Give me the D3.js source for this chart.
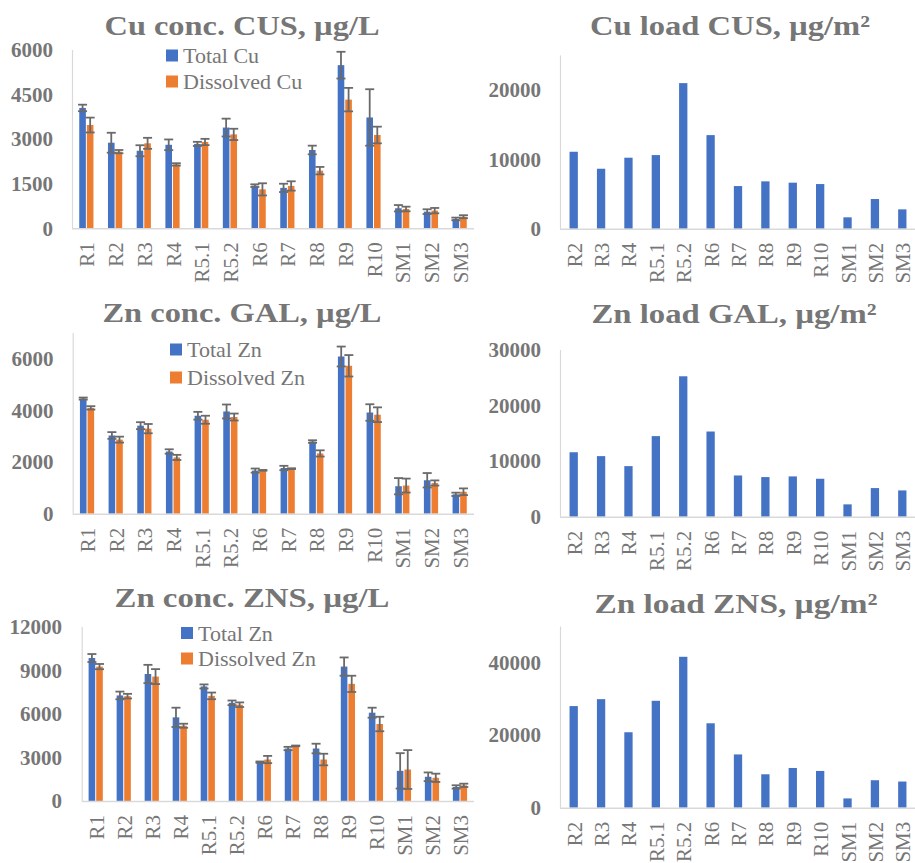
<!DOCTYPE html>
<html><head><meta charset="utf-8">
<script src="https://cdn.jsdelivr.net/npm/d3@7"></script>
<style>
html,body{margin:0;padding:0;background:#fff;}
svg{display:block;}
</style></head>
<body>
<svg id="chart" width="915" height="863"></svg>
<script>
// ---------- DATA ----------
const catsConc = ["R1","R2","R3","R4","R5.1","R5.2","R6","R7","R8","R9","R10","SM1","SM2","SM3"];
const catsLoad = ["R2","R3","R4","R5.1","R5.2","R6","R7","R8","R9","R10","SM1","SM2","SM3"];

const cuTotal     = [4050, 2880, 2610, 2810, 2840, 3390, 1435, 1360, 2635, 5490, 3730, 675, 560, 315];
const cuTotalErr  = [110, 335, 185, 180, 70, 300, 45, 140, 146, 450, 950, 107, 80, 45];
const cuDiss      = [3475, 2580, 2860, 2150, 2905, 3160, 1310, 1425, 1940, 4330, 3140, 650, 595, 390];
const cuDissErr   = [250, 55, 185, 40, 105, 190, 205, 157, 125, 395, 280, 78, 90, 50];
const cuLoad      = [11100, 8650, 10240, 10620, 21000, 13500, 6150, 6830, 6640, 6440, 1640, 4280, 2790];

const znGalTotal    = [4460, 3030, 3410, 2410, 3795, 3960, 1670, 1770, 2795, 6090, 3920, 1065, 1295, 750];
const znGalTotalErr = [40, 130, 135, 85, 150, 270, 80, 85, 50, 385, 320, 315, 280, 65];
const znGalDiss     = [4100, 2870, 3295, 2180, 3640, 3745, 1680, 1745, 2335, 5730, 3835, 1090, 1190, 850];
const znGalDissErr  = [65, 115, 180, 100, 155, 135, 15, 15, 120, 415, 285, 270, 100, 130];
const znGalLoad     = [11600, 10900, 9100, 14500, 25270, 15330, 7420, 7130, 7250, 6830, 2220, 5150, 4730];

const znZnsTotal    = [9860, 7280, 8760, 5770, 7900, 6770, 2680, 3620, 3620, 9270, 6090, 2080, 1670, 970];
const znZnsTotalErr = [275, 265, 630, 665, 140, 160, 45, 115, 330, 630, 345, 1220, 300, 115];
const znZnsDiss     = [9270, 7230, 8580, 5190, 7250, 6640, 2860, 3800, 2860, 8080, 5310, 2170, 1600, 1080];
const znZnsDissErr  = [180, 160, 515, 140, 230, 160, 250, 25, 400, 560, 500, 1340, 285, 115];
const znZnsLoad     = [28040, 29950, 20820, 29500, 41640, 23290, 14700, 9220, 10960, 10140, 2560, 7580, 7220];

const ticksCu   = [0, 1500, 3000, 4500, 6000];
const ticksGal  = [0, 2000, 4000, 6000];
const ticksZns  = [0, 3000, 6000, 9000, 12000];
const ticksCuL  = [0, 10000, 20000];
const ticksGalL = [0, 10000, 20000, 30000];
const ticksZnsL = [0, 20000, 40000];

// ---------- STYLE ----------
const BLUE = "#4472C4", ORANGE = "#ED7D31", TXT = "#767676", AXIS = "#d9d9d9", ERR = "#6a6a6a";
const FONT = "'Liberation Serif'";
const svg = d3.select("#chart");

function panel(cfg) {
  const g = svg.append("g");
  const x = d3.scaleBand().domain(cfg.cats).range([cfg.x0, cfg.x1]);
  const y = d3.scaleLinear().domain([0, cfg.max]).range([cfg.y1, cfg.y0]);

  // title
  g.append("text").attr("x", cfg.tx).attr("y", cfg.ty)
    .style("font-family", FONT)
    .attr("text-anchor", "middle").attr("font-size", 28).attr("font-weight", "bold")
    .attr("fill", TXT).attr("textLength", cfg.tw).attr("lengthAdjust", "spacingAndGlyphs")
    .text(cfg.title);

  // y axis
  const ya = d3.axisLeft(y).tickValues(cfg.ticks).tickSize(0).tickPadding(0).tickFormat(d3.format("d"));
  const yg = g.append("g").attr("transform", `translate(${cfg.labX},0)`).call(ya);
  yg.select(".domain").remove();
  yg.selectAll("text").style("font-family", FONT)
    .attr("font-size", 21).attr("font-weight", "bold").attr("fill", TXT);
  g.append("line").attr("x1", cfg.x0 + 0.5).attr("x2", cfg.x0 + 0.5)
    .attr("y1", cfg.y0).attr("y2", cfg.y1).attr("stroke", AXIS).attr("stroke-width", 1.2);

  // bars
  const series = cfg.series;
  const bw = cfg.bw, gap = cfg.gap;
  const n = series.length;
  series.forEach((s, si) => {
    const off = n === 1 ? -bw / 2 : (si === 0 ? -gap / 2 - bw : gap / 2);
    g.append("g").selectAll("rect").data(s.values).join("rect")
      .attr("x", (d, i) => x(cfg.cats[i]) + x.bandwidth() / 2 + off)
      .attr("width", bw)
      .attr("y", d => y(d))
      .attr("height", d => y(0) - y(d))
      .attr("fill", s.color);
  });
  // error bars
  series.forEach((s, si) => {
    if (!s.err) return;
    const off = si === 0 ? -gap / 2 - bw / 2 : gap / 2 + bw / 2;
    const eg = g.append("g").attr("stroke", ERR).attr("stroke-width", 1.8);
    s.values.forEach((v, i) => {
      const cx = x(cfg.cats[i]) + x.bandwidth() / 2 + off;
      const lo = y(v - s.err[i]), hi = y(v + s.err[i]);
      eg.append("line").attr("x1", cx).attr("x2", cx).attr("y1", hi).attr("y2", lo);
      eg.append("line").attr("x1", cx - 4.5).attr("x2", cx + 4.5).attr("y1", hi).attr("y2", hi);
      eg.append("line").attr("x1", cx - 4.5).attr("x2", cx + 4.5).attr("y1", lo).attr("y2", lo);
    });
  });

  // x axis
  g.append("line").attr("x1", cfg.x0).attr("x2", cfg.x1)
    .attr("y1", cfg.y1 + 0.5).attr("y2", cfg.y1 + 0.5).attr("stroke", AXIS).attr("stroke-width", 1.5);
  g.append("g").selectAll("text").data(cfg.cats).join("text")
    .style("font-family", FONT)
    .attr("transform", d => `translate(${x(d) + x.bandwidth() / 2 + 1},${cfg.y1 + 14}) rotate(-90)`)
    .attr("text-anchor", "end").attr("dominant-baseline", "central")
    .attr("font-size", 21).attr("fill", TXT).text(d => d);

  // legend
  if (cfg.legend) {
    const L = cfg.legend;
    series.forEach((s, si) => {
      const cy = L.y + si * L.dy;
      g.append("rect").attr("x", L.x).attr("y", cy - 6).attr("width", 12).attr("height", 12).attr("fill", s.color);
      g.append("text").style("font-family", FONT)
        .attr("x", L.x + 17).attr("y", cy).attr("dominant-baseline", "central")
        .attr("font-size", 22).attr("fill", TXT).text(s.name);
    });
  }
}

// Cu conc CUS
panel({title: "Cu conc. CUS, µg/L", tx: 242, ty: 35, tw: 275,
  cats: catsConc, x0: 72, x1: 474, y0: 50, y1: 228.3, max: 6000, ticks: ticksCu, labX: 53,
  bw: 6.6, gap: 1,
  series: [{name: "Total Cu", color: BLUE, values: cuTotal, err: cuTotalErr},
           {name: "Dissolved Cu", color: ORANGE, values: cuDiss, err: cuDissErr}],
  legend: {x: 166, y: 55.5, dy: 26}});

// Cu load CUS
panel({title: "Cu load CUS, µg/m²", tx: 730, ty: 35, tw: 280,
  cats: catsLoad, x0: 560, x1: 916, y0: 55.4, y1: 228.7, max: 25000, ticks: ticksCuL, labX: 541,
  bw: 8.3, gap: 0,
  series: [{name: "Cu load", color: BLUE, values: cuLoad}]});

// Zn conc GAL
panel({title: "Zn conc. GAL, µg/L", tx: 242, ty: 321.5, tw: 279,
  cats: catsConc, x0: 72.7, x1: 474, y0: 333, y1: 513.7, max: 7000, ticks: ticksGal, labX: 53.5,
  bw: 6.6, gap: 1,
  series: [{name: "Total Zn", color: BLUE, values: znGalTotal, err: znGalTotalErr},
           {name: "Dissolved Zn", color: ORANGE, values: znGalDiss, err: znGalDissErr}],
  legend: {x: 170, y: 349.5, dy: 28}});

// Zn load GAL
panel({title: "Zn load GAL, µg/m²", tx: 734, ty: 323, tw: 285,
  cats: catsLoad, x0: 560, x1: 916, y0: 350, y1: 516.7, max: 30000, ticks: ticksGalL, labX: 541,
  bw: 8.3, gap: 0,
  series: [{name: "Zn load", color: BLUE, values: znGalLoad}]});

// Zn conc ZNS
panel({title: "Zn conc. ZNS, µg/L", tx: 252, ty: 606.5, tw: 275,
  cats: catsConc, x0: 81.7, x1: 474, y0: 627, y1: 801, max: 12000, ticks: ticksZns, labX: 62,
  bw: 6.6, gap: 1,
  series: [{name: "Total Zn", color: BLUE, values: znZnsTotal, err: znZnsTotalErr},
           {name: "Dissolved Zn", color: ORANGE, values: znZnsDiss, err: znZnsDissErr}],
  legend: {x: 181, y: 633, dy: 25.5}});

// Zn load ZNS
panel({title: "Zn load ZNS, µg/m²", tx: 736, ty: 613, tw: 283,
  cats: catsLoad, x0: 560, x1: 916, y0: 626.5, y1: 807.7, max: 50000, ticks: ticksZnsL, labX: 541,
  bw: 8.3, gap: 0,
  series: [{name: "Zn load", color: BLUE, values: znZnsLoad}]});
</script>
</body></html>
